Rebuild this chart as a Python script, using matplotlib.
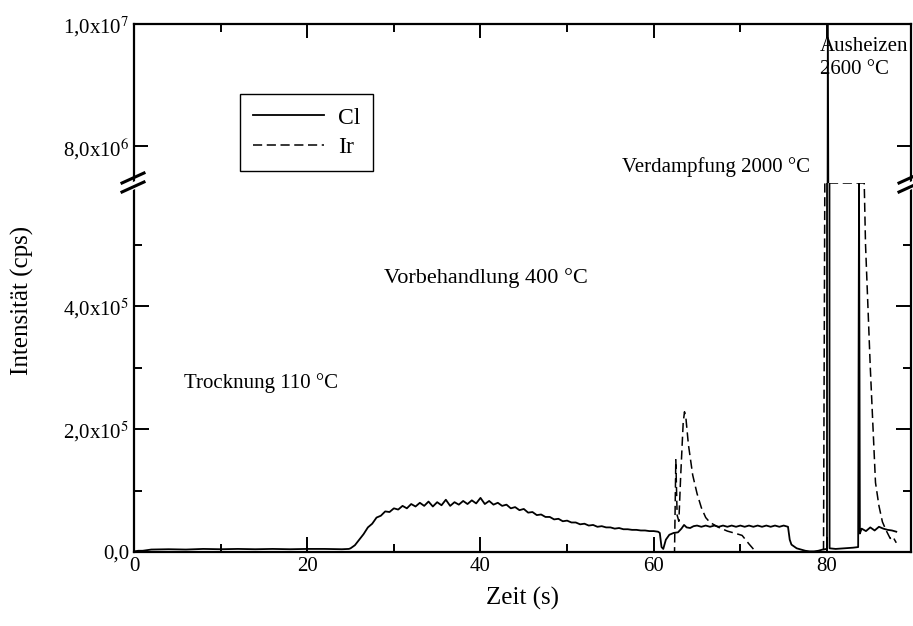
import matplotlib.pyplot as plt
from matplotlib.lines import Line2D
from matplotlib.patches import Polygon
from matplotlib.ticker import FixedLocator

plt.rcParams['font.family'] = ['Liberation Serif', 'DejaVu Serif']
plt.rcParams['mathtext.fontset'] = 'stix'

# Cl-Signal (cps) über die Zeit (s)
cl_t = [0, 0.5, 1, 1.5, 2, 4, 6, 8, 10, 12, 14, 16, 18, 20, 22, 24, 24.8,
        25.0, 25.5, 26.0, 26.5, 27.0, 27.5, 28.0, 28.5, 29.0, 29.5,
        30.0, 30.5, 31.0, 31.5, 32.0, 32.5, 33.0, 33.5, 34.0, 34.5,
        35.0, 35.5, 36.0, 36.5, 37.0, 37.5, 38.0, 38.5, 39.0, 39.5,
        40.0, 40.5, 41.0, 41.5, 42.0, 42.5, 43.0, 43.5, 44.0, 44.5,
        45.0, 45.5, 46.0, 46.5, 47.0, 47.5, 48.0, 48.5, 49.0, 49.5,
        50.0, 50.5, 51.0, 51.5, 52.0, 52.5, 53.0, 53.5, 54.0, 54.5,
        55.0, 55.5, 56.0, 56.5, 57.0, 57.5, 58.0, 58.5, 59.0, 59.5,
        60.0, 60.5, 60.7, 60.9, 61.1, 61.4, 61.8, 62.3, 62.8, 63.2, 63.5,
        63.8, 64.2, 64.6, 65.0, 65.5, 66.0, 66.5, 67.0, 67.5, 68.0, 68.5,
        69.0, 69.5, 70.0, 70.5, 71.0, 71.5, 72.0, 72.5, 73.0, 73.5, 74.0,
        74.5, 75.0, 75.5, 75.7, 75.9, 76.5, 77.0, 77.5, 78.0, 78.5, 79.0,
        79.5, 80.0, 80.1, 80.3, 81.0, 82.0, 83.0, 83.6, 83.7, 83.8, 84.0,
        84.5, 85.0, 85.5, 86.0, 86.5, 87.0, 87.5, 88.0]
cl_v = [1e3, 2e3, 2e3, 3e3, 4e3, 4.5e3, 4e3, 5e3, 4.5e3, 5e3, 4.5e3, 5e3, 4.5e3, 5e3, 5e3, 4.5e3, 5e3,
        6e3, 1.1e4, 2.0e4, 2.9e4, 4.0e4, 4.6e4, 5.6e4, 5.9e4, 6.6e4, 6.5e4,
        7.1e4, 6.9e4, 7.5e4, 7.1e4, 7.8e4, 7.4e4, 8.0e4, 7.5e4, 8.2e4, 7.4e4,
        8.1e4, 7.6e4, 8.5e4, 7.5e4, 8.1e4, 7.7e4, 8.3e4, 7.8e4, 8.4e4, 7.9e4,
        8.8e4, 7.8e4, 8.3e4, 7.7e4, 8.0e4, 7.5e4, 7.7e4, 7.1e4, 7.3e4, 6.8e4,
        7.0e4, 6.4e4, 6.5e4, 6.0e4, 6.1e4, 5.7e4, 5.7e4, 5.3e4, 5.4e4, 5.0e4,
        5.1e4, 4.8e4, 4.8e4, 4.5e4, 4.6e4, 4.3e4, 4.4e4, 4.1e4, 4.2e4, 4.0e4,
        4.0e4, 3.8e4, 3.9e4, 3.7e4, 3.7e4, 3.6e4, 3.6e4, 3.5e4, 3.5e4, 3.4e4,
        3.4e4, 3.3e4, 3.1e4, 8e3, 5e3, 2.0e4, 2.8e4, 3.1e4, 3.2e4, 3.8e4, 4.4e4,
        4.0e4, 3.9e4, 4.2e4, 4.3e4, 4.1e4, 4.3e4, 4.1e4, 4.3e4, 4.1e4, 4.3e4, 4.1e4,
        4.3e4, 4.1e4, 4.3e4, 4.1e4, 4.3e4, 4.1e4, 4.3e4, 4.1e4, 4.3e4, 4.1e4, 4.3e4,
        4.1e4, 4.3e4, 4.1e4, 2.0e4, 1.2e4, 6e3, 4e3, 2e3, 1e3, 1e3, 2e3,
        4e3, 5e3, 1.0e7, 6e3, 5e3, 6e3, 7e3, 8e3, 6.0e5, 3.0e4, 3.8e4,
        3.4e4, 4.0e4, 3.5e4, 4.1e4, 3.8e4, 3.6e4, 3.5e4, 3.3e4]

# Ir-Signal (cps), oberhalb 6e5 begrenzt
ir_t = [0, 62.4, 62.55, 62.7, 62.9, 63.1, 63.4, 63.55, 63.7, 64.0, 64.5,
        65.0, 65.5, 66.0, 66.5, 67.5, 68.5, 69.5, 70.2, 71.0, 71.8,
        79.6, 79.75, 84.3, 84.45, 85.0, 85.6, 86.0, 86.4, 86.8, 87.3, 87.6, 88.0]
ir_v = [0, 0, 1.5e5, 6e4, 5e4, 1.2e5, 2.1e5, 2.28e5, 2.2e5, 1.75e5, 1.25e5,
        9.5e4, 7.2e4, 5.6e4, 4.8e4, 4.0e4, 3.4e4, 3.0e4, 2.7e4, 1.3e4, 0,
        0, 6.0e5, 6.0e5, 5.0e5, 3.0e5, 1.13e5, 7.5e4, 4.9e4, 3.6e4, 2.2e4, 2.5e4, 1.5e4]

x_max = 89.7
low_max = 6.0e5
high_min, high_max = 7.4e6, 1.0e7

W, H = 913, 626
fig = plt.figure(figsize=(W / 100, H / 100), dpi=100)


def fx(px):
    return px / W


def fy(py):
    return 1 - py / H


left, right = fx(134), fx(911)
y_top, y_brk, y_bot = fy(24), fy(183), fy(552)
ax_hi = fig.add_axes([left, y_brk, right - left, y_top - y_brk])
ax_lo = fig.add_axes([left, y_bot, right - left, y_brk - y_bot])

for ax in (ax_hi, ax_lo):
    ax.plot(cl_t, cl_v, color='black', lw=1.3, label='Cl')
    ax.plot(ir_t, ir_v, color='black', lw=1.1, dashes=(6, 3), label='Ir')
    ax.set_xlim(0, x_max)
    for s in ax.spines.values():
        s.set_linewidth(1.6)
    ax.tick_params(which='both', direction='in', width=1.4, labelsize=15)
    ax.xaxis.set_major_locator(FixedLocator([0, 20, 40, 60, 80]))
    ax.xaxis.set_minor_locator(FixedLocator([10, 30, 50, 70]))

ax_lo.set_ylim(0, low_max)
ax_hi.set_ylim(high_min, high_max)

ax_hi.spines['bottom'].set_visible(False)
ax_lo.spines['top'].set_visible(False)

ax_hi.tick_params(which='both', bottom=False, top=True, labelbottom=False,
                  left=True, right=True)
ax_hi.tick_params(which='major', length=10)
ax_hi.tick_params(which='minor', length=6)
ax_lo.tick_params(which='both', top=False, bottom=True, left=True, right=True)
ax_lo.tick_params(which='major', length=11)
ax_lo.tick_params(which='minor', length=6)

ax_lo.yaxis.set_major_locator(FixedLocator([0, 2e5, 4e5]))
ax_lo.yaxis.set_minor_locator(FixedLocator([1e5, 3e5, 5e5]))
ax_lo.set_yticklabels(['0,0', r'2,0x10$^5$', r'4,0x10$^5$'])
ax_hi.yaxis.set_major_locator(FixedLocator([8e6, 1e7]))
ax_hi.set_yticklabels([r'8,0x10$^6$', r'1,0x10$^7$'])

ax_lo.set_xlabel('Zeit (s)', fontsize=18, labelpad=8)
fig.text(fx(22), fy(300), 'Intensität (cps)', rotation=90, fontsize=18,
         ha='center', va='center')

# Achsenbruch-Markierungen
for xp in (134, 911):
    gap = Polygon([(fx(xp - 12), fy(187)), (fx(xp + 10), fy(177)),
                   (fx(xp + 10), fy(185)), (fx(xp - 12), fy(195))],
                  closed=True, transform=fig.transFigure, facecolor='white',
                  edgecolor='none', zorder=5)
    fig.add_artist(gap)
    for off in (0, 9):
        fig.add_artist(Line2D([fx(xp - 12), fx(xp + 10)],
                              [fy(183 + off), fy(173 + off)],
                              transform=fig.transFigure, color='black',
                              lw=2.2, zorder=6))

# Temperaturstufen
fig.text(fx(184), fy(383), 'Trocknung 110 °C', fontsize=15, va='center')
fig.text(fx(384), fy(278), 'Vorbehandlung 400 °C', fontsize=16, va='center')
fig.text(fx(622), fy(167), 'Verdampfung 2000 °C', fontsize=15, va='center')
fig.text(fx(820), fy(58), 'Ausheizen\n2600 °C', fontsize=15, va='center',
         linespacing=1.25)

ax_hi.legend(loc='upper left', bbox_to_anchor=(fx(240), fy(94)),
             bbox_transform=fig.transFigure, fontsize=17, frameon=True,
             fancybox=False, edgecolor='black', framealpha=1,
             handlelength=3.0, borderpad=0.55, labelspacing=0.35,
             handletextpad=0.6, borderaxespad=0)
ax_hi.get_legend().get_frame().set_linewidth(1.0)

fig.savefig('out.png', dpi=100)
